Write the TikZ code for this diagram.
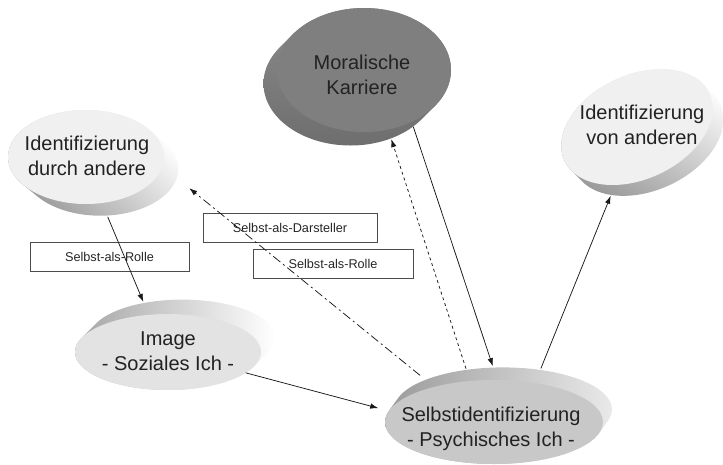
\documentclass[tikz,border=0pt]{standalone}
\usepackage{fontspec}
\setmainfont{Liberation Sans}
\usetikzlibrary{arrows.meta}
\usetikzlibrary{shapes.geometric}
\definecolor{mkface}{HTML}{7F7F7F}
\definecolor{mkside}{HTML}{6E6E6E}
\definecolor{lightface}{HTML}{F0F0F0}
\definecolor{imgface}{HTML}{E3E3E3}
\definecolor{siface}{HTML}{C8C8C8}
\definecolor{sidegray}{HTML}{9A9A9A}
\definecolor{txtgray}{HTML}{222222}
\tikzset{
	disc/.style={ellipse, inner sep=0pt, outer sep=0pt},
	disctext/.style={align=center, text=txtgray, font=\fontsize{20}{25}\selectfont},
	rollbox/.style={draw=black!70, line width=0.6pt, minimum height=29, inner sep=0pt, text=black!85, font=\fontsize{12.7}{15}\selectfont},
	link/.style={-{Latex[length=8pt,width=5.5pt]}, line width=0.75pt, black!90},
}

\begin{document}
\begin{tikzpicture}[x=1pt,y=-1pt]
	\useasboundingbox (0,0) rectangle (723,464);

	% Moralische Karriere
	\shade[top color=mkside!80!white, bottom color=mkside] \foreach \t in {0,0.1,...,1} {(364-15*\t,70+15*\t) ellipse (87 and 62)};
	\node[disc, fill=mkface, minimum width=174, minimum height=124] (mk) at (364,70) {};
	\node[disc, minimum width=174, minimum height=124] (mk-b) at (349,85) {};
	\node[disctext] (mk-t) at (362,75) {Moralische\\Karriere};

	% Identifizierung durch andere
	\shade[top color=white, bottom color=sidegray, shading angle=-45] \foreach \t in {0,0.1,...,1} {(86+16*\t,157+13*\t) ellipse (78 and 47)};
	\node[disc, fill=lightface, minimum width=156, minimum height=94] (ida) at (86,157) {};
	\node[disc, minimum width=156, minimum height=94] (ida-b) at (102,170) {};
	\node[disctext] (ida-t) at (87,156) {Identifizierung\\durch andere};

	% Identifizierung von anderen (tilted)
	\shade[rotate around={25:(637,127)}, top color=white, bottom color=sidegray, shading angle=-30] \foreach \t in {0,0.1,...,1} {(637+5.8*\t,127+16*\t) ellipse (80 and 52)};
	\node[disc, rotate=25, fill=lightface, minimum width=160, minimum height=104] (iva) at (637,127) {};
	\node[disc, rotate=25, minimum width=160, minimum height=104] (iva-b) at (649,139) {};
	\node[disctext] (iva-t) at (642,125) {Identifizierung\\von anderen};

	% Image
	\shade[left color=sidegray!90, right color=white] \foreach \t in {0,0.1,...,1} {(168+16*\t,352-16*\t) ellipse (93 and 38)};
	\node[disc, fill=imgface, minimum width=186, minimum height=76] (img) at (168,352) {};
	\node[disc, minimum width=186, minimum height=76] (img-b) at (184,336) {};
	\node[disctext] (img-t) at (168,351) {Image\\- Soziales Ich -};

	% Selbstidentifizierung
	\shade[left color=sidegray, right color=siface!40!white] \foreach \t in {0,0.1,...,1} {(494+10*\t,422-14*\t) ellipse (109 and 42)};
	\node[disc, fill=siface, minimum width=218, minimum height=84] (si) at (494,422) {};
	\node[disc, minimum width=218, minimum height=84] (si-b) at (504,408) {};
	\node[disctext] (si-t) at (491,429) {Selbstidentifizierung\\- Psychisches Ich -};

	\node[rollbox, minimum width=159] (rolle-l) at (109.5,256.5) {Selbst-als-Rolle};
	\node[rollbox, minimum width=174] (darst) at (290,227.5) {Selbst-als-Darsteller};
	\node[rollbox, minimum width=160] (rolle-r) at (333,263.5) {Selbst-als-Rolle};

	\draw[link] (ida-b.-83) -- (img-b.140);
	\draw[link, shorten >=11pt] (img.-15) -- (si.174);
	\draw[link, dash pattern=on 9pt off 3.5pt on 2pt off 3.5pt, shorten <=6pt, shorten >=14pt] (si-b.160) -- (ida-b.-7);
	\draw[link, dashed] (si-b.134) -- (mk-b.-52);
	\draw[link] (mk-b.-33) -- (si-b.105);
	\draw[link] (si-b.47) -- (iva-b.211);
\end{tikzpicture}
\end{document}
